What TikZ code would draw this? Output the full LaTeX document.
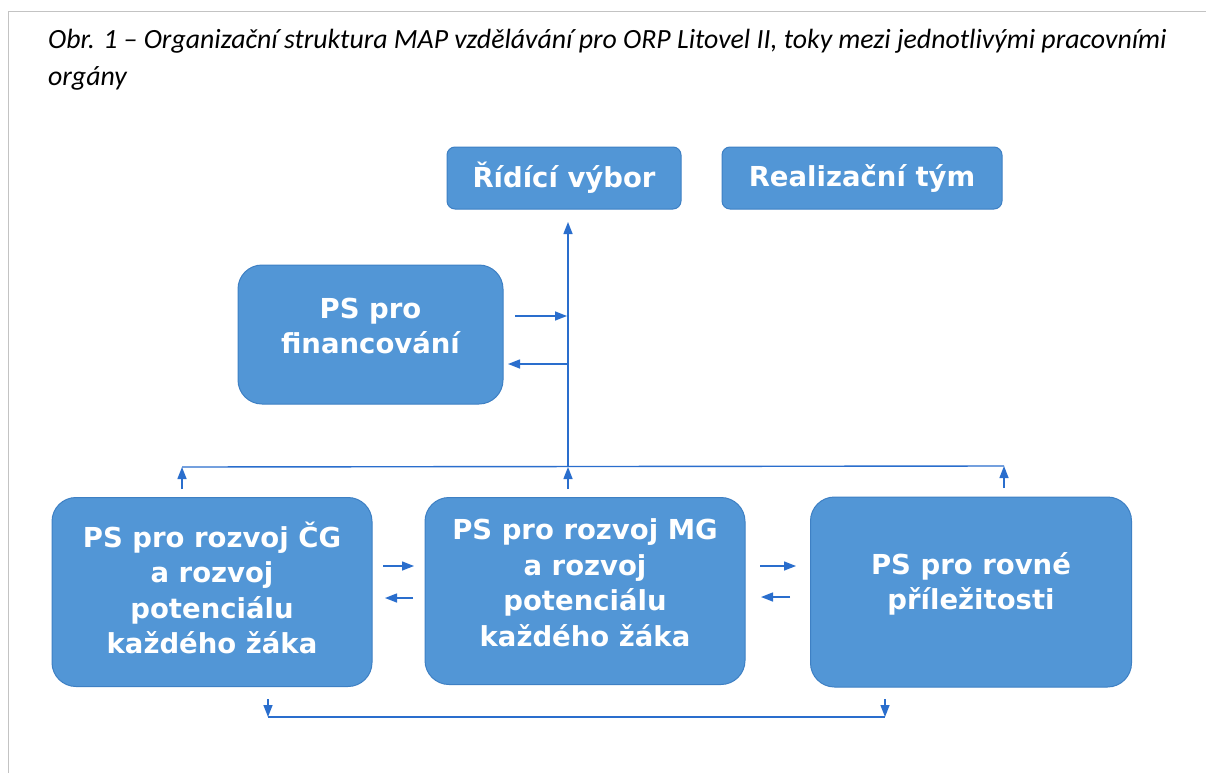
\documentclass[tikz,border=0pt]{standalone}
\usepackage{fontspec}
\usetikzlibrary{arrows.meta}
\newfontfamily\boxfont{DejaVu Sans}
\newfontfamily\titlefont{Carlito}
\definecolor{boxblue}{RGB}{82,150,214}
\definecolor{boxedge}{RGB}{62,128,196}
\definecolor{linkblue}{RGB}{42,110,205}
\definecolor{framegrey}{RGB}{195,195,195}
\begin{document}
\begin{tikzpicture}[x=1pt,y=-1pt,
  box/.style={draw=boxedge, line width=1pt, fill=boxblue, text=white,
    font=\boxfont\bfseries\fontsize{27.5}{35.5}\selectfont, align=center, inner sep=0pt},
  smallbox/.style={box, rounded corners=8pt},
  bigbox/.style={box, rounded corners=24pt, text depth=17pt},
  link/.style={draw=linkblue, line width=1.4pt},
  arr/.style={link, -{Triangle[length=12pt,width=9pt]}}]
\useasboundingbox (0,0) rectangle (1206,773);
\fill[white] (0,0) rectangle (1206,773);
\draw[framegrey, line width=1pt] (8,773) -- (8,12) -- (1206,12);
\node[anchor=north west, inner sep=0pt, align=left,
  font=\titlefont\itshape\fontsize{27.8}{37}\selectfont] (title) at (48,29)
  {Obr. 1 – Organizační struktura MAP vzdělávání pro ORP Litovel II, toky mezi jednotlivými pracovními\\orgány};
% boxes
\node[smallbox, minimum width=234pt, minimum height=62pt] (rv) at (564,178) {Řídící výbor};
\node[smallbox, minimum width=280pt, minimum height=62pt] (rt) at (862,178) {Realizační tým};
\node[bigbox, minimum width=265pt, minimum height=139pt] (fin) at (370.5,334.5) {PS pro\\financování};
\node[bigbox, text depth=9pt, minimum width=320pt, minimum height=189pt] (cg) at (212,592) {PS pro rozvoj ČG\\a rozvoj\\potenciálu\\každého žáka};
\node[bigbox, minimum width=320pt, minimum height=187pt] (mg) at (585,591) {PS pro rozvoj MG\\a rozvoj\\potenciálu\\každého žáka};
\node[bigbox, text depth=22pt, minimum width=321pt, minimum height=190pt] (ro) at (971,592) {PS pro rovné\\příležitosti};
% coordinates
\coordinate (hub) at (568,467);
\coordinate (hl) at (182,467);
\coordinate (hr) at (1004,466);
\coordinate (rvin) at (568,222);
\coordinate (cgup) at (182,489);
\coordinate (mgup) at (568,489);
\coordinate (roup) at (1004,488);
\coordinate (finA) at (515,316);
\coordinate (spA) at (567,316);
\coordinate (spB) at (567,364);
\coordinate (finB) at (508,364);
\coordinate (c1a) at (383,566); \coordinate (c1b) at (414,566);
\coordinate (c2a) at (413,598); \coordinate (c2b) at (385,598);
\coordinate (d1a) at (760,566); \coordinate (d1b) at (796,566);
\coordinate (d2a) at (790,597); \coordinate (d2b) at (761,597);
\coordinate (bl0) at (268,699); \coordinate (bl) at (268,717);
\coordinate (br0) at (885,699); \coordinate (br) at (885,717);
% connectors
\draw[arr] (hub) -- (rvin);
\draw[link] (hl) -- (hr);
\draw[arr] (cgup) -- (hl);
\draw[arr] (mgup) -- (hub);
\draw[arr] (roup) -- (hr);
\draw[arr] (finA) -- (spA);
\draw[arr] (spB) -- (finB);
\draw[arr] (c1a) -- (c1b);
\draw[arr] (c2a) -- (c2b);
\draw[arr] (d1a) -- (d1b);
\draw[arr] (d2a) -- (d2b);
\draw[arr] (bl0) -- (bl);
\draw[link] (bl) -- (br);
\draw[arr] (br0) -- (br);
\end{tikzpicture}
\end{document}
